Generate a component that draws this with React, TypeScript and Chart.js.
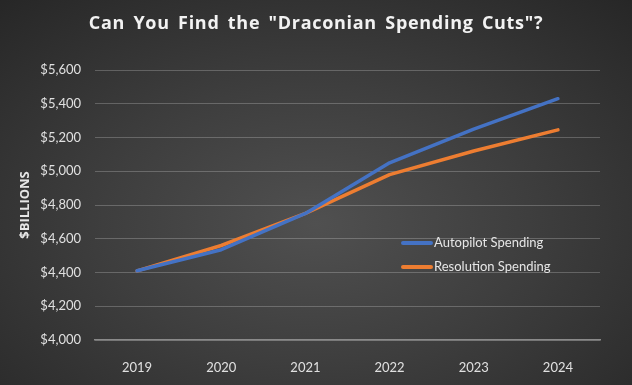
import React, { useEffect, useRef } from "react";
import { Chart, registerables } from "chart.js";

Chart.register(...registerables);

const years = ["2019", "2020", "2021", "2022", "2023", "2024"];
const autopilot = [4410, 4535, 4750, 5050, 5250, 5430];
const resolution = [4410, 4560, 4750, 4980, 5120, 5245];
const seriesNames = ["Autopilot Spending", "Resolution Spending"];
const seriesColors = ["#4472C4", "#ED7D31"];
const titleText = 'Can You Find the "Draconian Spending Cuts"?';
const yTitle = "$BILLIONS";

const titlePlugin = {
  id: "spacedTitle",
  afterDraw(chart: any) {
    const ctx = chart.ctx;
    ctx.save();
    ctx.font = "bold 18px 'Open Sans', sans-serif";
    (ctx as any).letterSpacing = "0.7px";
    (ctx as any).wordSpacing = "3px";
    ctx.fillStyle = "#f2f2f2";
    ctx.textAlign = "center";
    ctx.textBaseline = "middle";
    ctx.fillText(titleText, chart.width / 2, 24);
    ctx.restore();
  },
};

const legendPlugin = {
  id: "innerLegend",
  afterDraw(chart: any) {
    const ctx = chart.ctx;
    const area = chart.chartArea;
    const x0 = area.left + 308;
    const y0 = area.top + 173;
    ctx.save();
    ctx.font = "13px Lato, 'Open Sans', sans-serif";
    ctx.textBaseline = "middle";
    chart.data.datasets.forEach((ds: any, i: number) => {
      const y = y0 + i * 24;
      ctx.strokeStyle = ds.borderColor;
      ctx.lineWidth = 4;
      ctx.lineCap = "round";
      ctx.beginPath();
      ctx.moveTo(x0, y);
      ctx.lineTo(x0 + 28, y);
      ctx.stroke();
      ctx.fillStyle = "#e6e6e6";
      ctx.fillText(ds.label, x0 + 31, y);
    });
    ctx.restore();
  },
};

export default function App() {
  const ref = useRef<HTMLCanvasElement | null>(null);
  useEffect(() => {
    if (!ref.current) return;
    const chart = new Chart(ref.current, {
      type: "line",
      data: {
        labels: years,
        datasets: [
          {
            label: seriesNames[0],
            data: autopilot,
            borderColor: seriesColors[0],
            backgroundColor: seriesColors[0],
            borderWidth: 3.5,
            pointRadius: 0,
            tension: 0,
            borderCapStyle: "round",
            borderJoinStyle: "round",
          },
          {
            label: seriesNames[1],
            data: resolution,
            borderColor: seriesColors[1],
            backgroundColor: seriesColors[1],
            borderWidth: 3.5,
            pointRadius: 0,
            tension: 0,
            borderCapStyle: "round",
            borderJoinStyle: "round",
          },
        ],
      },
      options: {
        animation: false,
        responsive: false,
        maintainAspectRatio: false,
        layout: { padding: { left: 17, right: 32, top: 70, bottom: 0 } },
        plugins: {
          legend: { display: false },
          tooltip: { enabled: false },
          title: { display: false },
        },
        scales: {
          x: {
            offset: true,
            grid: { display: false },
            border: { display: true, color: "#8a8a8a", width: 1.5 },
            ticks: {
              color: "#e0e0e0",
              font: { family: "Lato, 'Open Sans', sans-serif", size: 13 },
              padding: 12,
            },
            afterFit(scale: any) {
              scale.height = 45;
            },
          },
          y: {
            min: 4000,
            max: 5600,
            grid: { color: "rgba(255,255,255,0.22)", lineWidth: 1, drawTicks: false },
            border: { display: false },
            ticks: {
              stepSize: 200,
              color: "#e0e0e0",
              padding: 14,
              font: { family: "Lato, 'Open Sans', sans-serif", size: 13 },
              callback: (v: any) => "$" + Number(v).toLocaleString("en-US"),
            },
            title: {
              display: true,
              text: yTitle,
              color: "#e6e6e6",
              font: { family: "'Open Sans', sans-serif", size: 13, weight: "bold" },
              padding: { top: 0, bottom: 4 },
            },
            afterFit(scale: any) {
              scale.width = 78;
            },
          },
        },
      },
      plugins: [titlePlugin, legendPlugin],
    } as any);
    return () => chart.destroy();
  }, []);
  return (
    <div
      style={{
        position: "fixed",
        left: 0,
        top: 0,
        width: 632,
        height: 385,
        background:
          "radial-gradient(ellipse 75% 80% at 50% 58%, #505050 0%, #3e3e3e 45%, #262626 100%)",
      }}
    >
      <canvas ref={ref} width={632} height={385} style={{ display: "block" }} />
    </div>
  );
}
